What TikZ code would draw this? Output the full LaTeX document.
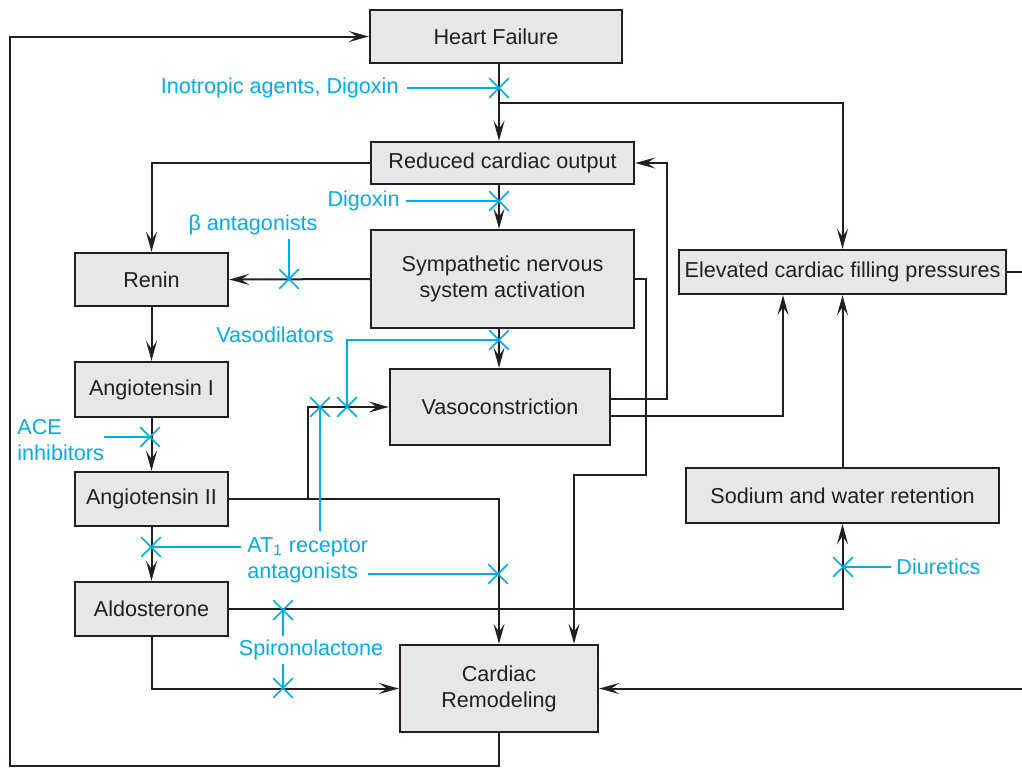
\documentclass[tikz,border=0pt]{standalone}
\usepackage{fontspec}
\setmainfont{Liberation Sans}
\usetikzlibrary{arrows.meta, positioning, shapes.misc}
\definecolor{grisoscuro}{HTML}{231F20}
\definecolor{grisclaro}{HTML}{E6E7E8}
\definecolor{cianfarmaco}{HTML}{00AEEF}
\colorlet{colGris}{grisoscuro}
\colorlet{colCaja}{grisclaro}
\colorlet{colFarmaco}{cianfarmaco}
\tikzset{
  cajaBase/.style={
    draw=colGris, line width=1.2pt, fill=colCaja,
    inner sep=0pt, align=center, text=colGris,
    font=\fontsize{10.8}{13}\selectfont
  },
  flecha/.style={-{Stealth[length=10pt, width=5.5pt, inset=4pt]}, line width=1pt, colGris},
  lineaFarmaco/.style={line width=0.8pt, colFarmaco},
  etiquetaFarmaco/.style={font=\fontsize{10.8}{13}\selectfont, text=colFarmaco,
    inner sep=0pt, align=left},
  bloqueo/.style={cross out, draw=colFarmaco, line width=0.8pt,
    minimum size=9pt, inner sep=0pt},
}

\begin{document}
\begin{tikzpicture}[x=0.5pt, y=-0.5pt]
    \useasboundingbox (0,0) rectangle (1022,767);
    \node[cajaBase, minimum width=126pt, minimum height=26.5pt] (hf) at (496,36.5) {Heart Failure};
    \node[cajaBase, minimum width=131.5pt, minimum height=21pt] (rco) at (502.5,163) {Reduced cardiac output};
    \node[cajaBase, minimum width=131.5pt, minimum height=49pt] (sns) at (502.5,279) {Sympathetic nervous\\system activation};
    \node[cajaBase, minimum width=76.5pt, minimum height=26.5pt] (renin) at (151.5,279.5) {Renin};
    \node[cajaBase, minimum width=76.5pt, minimum height=27.5pt] (ang1) at (151.5,389.5) {Angiotensin I};
    \node[cajaBase, minimum width=76.5pt, minimum height=27pt] (ang2) at (151.5,499) {Angiotensin II};
    \node[cajaBase, minimum width=76.5pt, minimum height=27pt] (aldo) at (151.5,609) {Aldosterone};
    \node[cajaBase, minimum width=110pt, minimum height=38pt] (vaso) at (500,407) {Vasoconstriction};
    \node[cajaBase, minimum width=163.5pt, minimum height=22pt] (efp) at (842.5,272) {Elevated cardiac filling pressures};
    \node[cajaBase, minimum width=156.5pt, minimum height=27.5pt] (swr) at (842.5,495.5) {Sodium and water retention};
    \node[cajaBase, minimum width=99pt, minimum height=43.5pt] (remod) at (499,688.5) {Cardiac\\Remodeling};

    \coordinate (eje) at (499,0);
    \coordinate (bifurca) at (499,103);
    \coordinate (rama) at (308,499);
    \coordinate (colVaso) at (783,0);
    \coordinate (colSns) at (646,475);
    \coordinate (colRemod) at (574,0);
    \coordinate (esquinaInf) at (10,766);
    \coordinate (esquinaDer) at (1030,688.5);

    \draw[flecha] (eje |- hf.south) -- (eje |- rco.north);
    \draw[flecha] (bifurca) -| (efp.north);
    \draw[flecha] (rco.west) -| (renin.north);
    \draw[flecha] (eje |- rco.south) -- (eje |- sns.north);
    \draw[flecha] (sns.west) -- (renin.east);
    \draw[flecha] (sns.east) -| (colSns) -| (colRemod |- remod.north);
    \draw[flecha] (eje |- sns.south) -- (eje |- vaso.north);
    \draw[flecha] ([yshift=4pt]vaso.east) -- ++(56,0) |- (rco.east);
    \draw[flecha] ([yshift=-4.5pt]vaso.east) -| (colVaso |- efp.south);
    \draw[flecha] (swr.north) -- (efp.south);
    \draw[flecha] (renin.south) -- (ang1.north);
    \draw[flecha] (ang1.south) -- (ang2.north);
    \draw[flecha] (ang2.east) -| (remod.north);
    \draw[flecha] (rama) |- (vaso.west);
    \draw[flecha] (ang2.south) -- (aldo.north);
    \draw[flecha] (aldo.east) -| (swr.south);
    \draw[flecha] (aldo.south) |- (remod.west);
    \draw[flecha] (remod.south) |- (esquinaInf) |- (hf.west);
    \draw[flecha] (efp.east) -| (esquinaDer) -- (remod.east);

    \node[bloqueo] (xInotropo) at (499,88) {};
    \node[bloqueo] (xDigoxina) at (499,201) {};
    \node[bloqueo] (xBeta) at (289,279) {};
    \node[bloqueo] (xSns) at (499,340) {};
    \node[bloqueo] (xVasoA) at (320,407) {};
    \node[bloqueo] (xVasoB) at (347,407) {};
    \node[bloqueo] (xIECA) at (150,437) {};
    \node[bloqueo] (xAldo) at (151,547) {};
    \node[bloqueo] (xRemod) at (498,574) {};
    \node[bloqueo] (xAldoSod) at (283,610) {};
    \node[bloqueo] (xAldoRem) at (283,688) {};
    \node[bloqueo] (xSodio) at (843,567) {};

    \node[etiquetaFarmaco, anchor=east] (lblInotropo) at (399,88) {Inotropic agents, Digoxin};
    \node[etiquetaFarmaco, anchor=east] (lblDigoxina) at (400,201) {Digoxin};
    \node[etiquetaFarmaco] (lblBeta) at (253,225) {β antagonists};
    \node[etiquetaFarmaco] (lblVasodil) at (275,335) {Vasodilators};
    \node[etiquetaFarmaco, anchor=west] (lblIECA) at (17,440) {ACE\\inhibitors};
    \node[etiquetaFarmaco, anchor=west] (lblAT1) at (247,547) {AT\textsubscript{1} receptor};
    \node[etiquetaFarmaco, anchor=west] (lblAT2) at (247,573) {antagonists};
    \node[etiquetaFarmaco] (lblEspiro) at (311,650) {Spironolactone};
    \node[etiquetaFarmaco, anchor=west] (lblDiur) at (896,567) {Diuretics};

    \draw[lineaFarmaco] ([xshift=4pt]lblInotropo.east) -- (xInotropo.center);
    \draw[lineaFarmaco] ([xshift=3pt]lblDigoxina.east) -- (xDigoxina.center);
    \draw[lineaFarmaco] ([yshift=-2pt]xBeta.center |- lblBeta.south) -- (xBeta.center);
    \draw[lineaFarmaco] (xSns.center) -| (xVasoB.center);
    \draw[lineaFarmaco] (lblIECA.east |- xIECA) -- (xIECA.center);
    \draw[lineaFarmaco] ([xshift=-3pt]lblAT1.west |- xAldo) -- (xAldo.center);
    \draw[lineaFarmaco] ([xshift=5pt]lblAT2.east |- xRemod) -- (xRemod.center);
    \draw[lineaFarmaco] (xVasoA.center) -- ([yshift=3pt]xVasoA.center |- lblAT1.north);
    \draw[lineaFarmaco] (xAldoSod.center) -- ([yshift=2pt]xAldoSod.center |- lblEspiro.north);
    \draw[lineaFarmaco] ([yshift=-2pt]xAldoRem.center |- lblEspiro.south) -- (xAldoRem.center);
    \draw[lineaFarmaco] ([xshift=-2.5pt]lblDiur.west) -- (xSodio.center);
\end{tikzpicture}
\end{document}
